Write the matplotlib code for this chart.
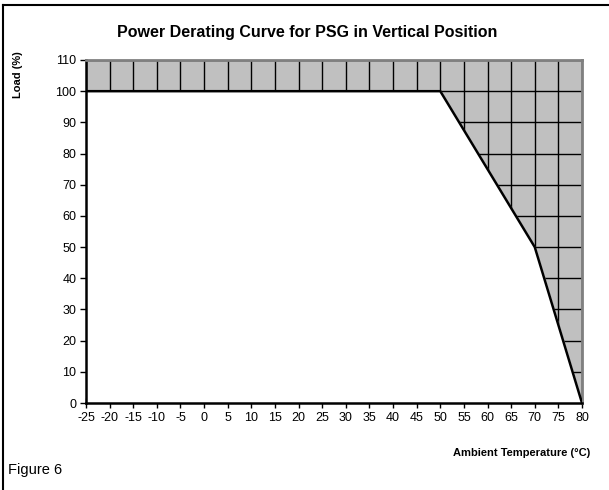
import matplotlib.pyplot as plt
from matplotlib.lines import Line2D

plt.rcParams['font.family'] = ['Liberation Sans', 'DejaVu Sans']
plt.rcParams['axes.unicode_minus'] = False

# derating curve points
temp = [-25, 50, 70, 80]
load = [100, 100, 50, 0]

x_ticks = list(range(-25, 81, 5))
y_ticks = list(range(0, 111, 10))

fig = plt.figure(figsize=(6.09, 4.90), dpi=100)
ax = fig.add_axes([86/609, 1 - 403/490, 496/609, 343/490])

ax.set_facecolor('#c0c0c0')
ax.set_axisbelow(True)
ax.grid(True, color='black', linewidth=1.0)

# white area under the curve hides the grid
ax.fill_between(temp, load, 0, color='white', zorder=1)
ax.plot(temp, load, color='black', linewidth=1.8, zorder=3)

ax.set_xlim(-25, 80)
ax.set_ylim(0, 110)
ax.set_xticks(x_ticks)
ax.set_yticks(y_ticks)
ax.tick_params(axis='x', direction='inout', length=7, width=1, labelsize=9, pad=3)
ax.tick_params(axis='y', direction='out', length=4, width=1, labelsize=9, pad=3)

for s in ['left', 'bottom']:
    ax.spines[s].set_color('black')
    ax.spines[s].set_linewidth(1.8)
for s in ['top', 'right']:
    ax.spines[s].set_color('#808080')
    ax.spines[s].set_linewidth(2)

fig.text(307/609, 1 - 33/490, 'Power Derating Curve for PSG in Vertical Position',
         ha='center', va='center', fontsize=11.5, fontweight='bold')
fig.text(18/609, 1 - 75/490, 'Load (%)', rotation=90, ha='center', va='center',
         fontsize=8, fontweight='bold')
fig.text(590/609, 1 - 453/490, 'Ambient Temperature (°C)', ha='right', va='center',
         fontsize=8, fontweight='bold')
fig.text(8/609, 1 - 470/490, 'Figure 6', ha='left', va='center', fontsize=10.5)

# outer frame (left and top edges visible)
fig.add_artist(Line2D([3/609, 3/609], [0, 1 - 5/490], color='black', linewidth=1.5,
                      transform=fig.transFigure))
fig.add_artist(Line2D([3/609, 1], [1 - 5/490, 1 - 5/490], color='black', linewidth=1.5,
                      transform=fig.transFigure))

fig.savefig('out.png', dpi=100)
